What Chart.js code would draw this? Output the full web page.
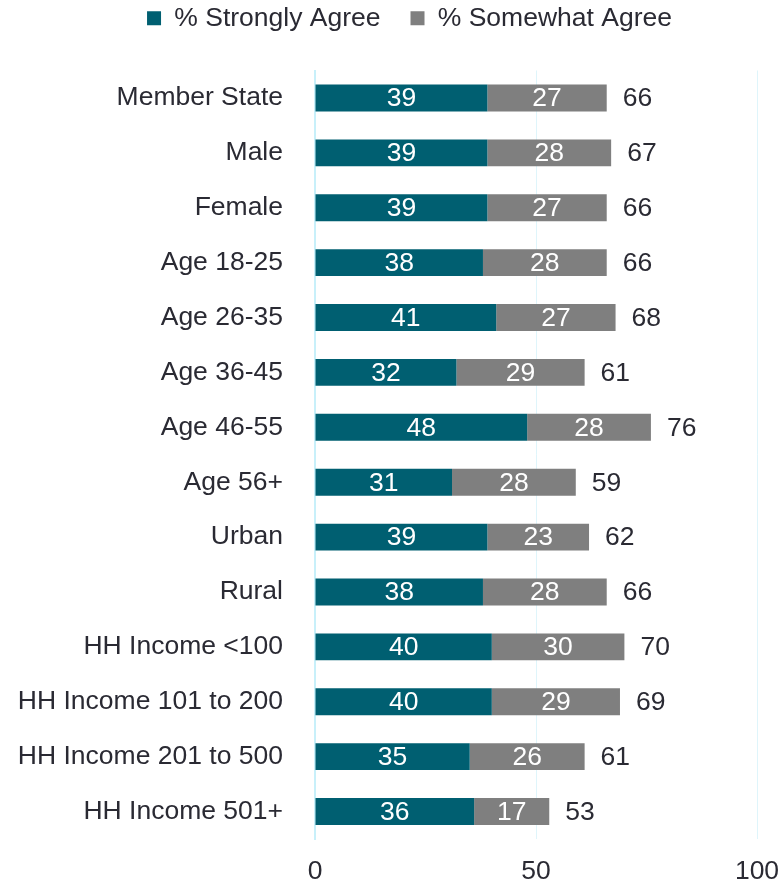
<!DOCTYPE html>
<html>
<head>
<meta charset="utf-8">
<script src="https://cdn.jsdelivr.net/npm/chart.js@4.4.1/dist/chart.umd.min.js"></script>
<style>
  html, body { margin: 0; padding: 0; background: #ffffff; }
  #wrap { width: 784px; height: 885px; position: relative; }
</style>
</head>
<body>
<div id="wrap"><canvas id="c"></canvas></div>
<script>
const categories = ["Member State", "Male", "Female", "Age 18-25", "Age 26-35", "Age 36-45", "Age 46-55", "Age 56+", "Urban", "Rural", "HH Income <100", "HH Income 101 to 200", "HH Income 201 to 500", "HH Income 501+"];
const stronglyAgree = [39, 39, 39, 38, 41, 32, 48, 31, 39, 38, 40, 40, 35, 36];
const somewhatAgree = [27, 28, 27, 28, 27, 29, 28, 28, 23, 28, 30, 29, 26, 17];
const totals = [66, 67, 66, 66, 68, 61, 76, 59, 62, 66, 70, 69, 61, 53];
const xTicks = [0, 50, 100];

const FONT = '"Liberation Sans", Arial, sans-serif';
const FS = 26.5;
const TEXT = '#2a2a33';

const labelPlugin = {
  id: 'barLabels',
  afterLayout(chart) {
    if (chart.legend) { chart.legend.left += 31; chart.legend.right += 31; }
  },
  afterDatasetsDraw(chart) {
    const ctx = chart.ctx;
    ctx.save();
    ctx.font = FS + 'px ' + FONT;
    ctx.textBaseline = 'middle';
    chart.data.datasets.forEach((ds, di) => {
      const meta = chart.getDatasetMeta(di);
      meta.data.forEach((bar, i) => {
        ctx.fillStyle = '#ffffff';
        ctx.textAlign = 'center';
        ctx.fillText(String(ds.data[i]), (bar.x + bar.base) / 2, bar.y + 1);
      });
    });
    const last = chart.getDatasetMeta(chart.data.datasets.length - 1);
    last.data.forEach((bar, i) => {
      ctx.fillStyle = TEXT;
      ctx.textAlign = 'left';
      ctx.fillText(String(totals[i]), bar.x + 16, bar.y + 1);
    });
    ctx.restore();
  }
};

new Chart(document.getElementById('c'), {
  type: 'bar',
  data: {
    labels: categories,
    datasets: [
      { label: '% Strongly Agree', data: stronglyAgree, backgroundColor: '#005f71', borderWidth: 0,
        barPercentage: 0.49, categoryPercentage: 1.0 },
      { label: '% Somewhat Agree', data: somewhatAgree, backgroundColor: '#7f7f7f', borderWidth: 0,
        barPercentage: 0.49, categoryPercentage: 1.0 }
    ]
  },
  options: {
    indexAxis: 'y',
    responsive: true,
    maintainAspectRatio: false,
    animation: false,
    layout: { padding: { left: 0, right: 27, top: -25, bottom: 0 } },
    plugins: {
      legend: {
        position: 'top',
        labels: {
          font: { family: FONT, size: FS },
          color: TEXT,
          boxWidth: 14,
          boxHeight: 14,
          padding: 30
        }
      },
      tooltip: { enabled: false }
    },
    scales: {
      x: {
        stacked: true,
        min: 0,
        max: 100,
        afterBuildTicks(scale) { scale.ticks = xTicks.map(v => ({ value: v })); },
        afterFit(scale) { scale.height = 46; scale.paddingRight = 0; scale.paddingLeft = 0; },
        grid: { color: '#dff5fb', lineWidth: 1, drawTicks: false },
        border: { display: false },
        ticks: { font: { family: FONT, size: FS }, color: TEXT, padding: 17, maxRotation: 0 }
      },
      spacer: {
        type: 'linear',
        axis: 'x',
        position: 'top',
        display: true,
        grid: { display: false, drawTicks: false },
        border: { display: false },
        ticks: { display: false },
        afterFit(scale) { scale.height = 29; scale.paddingRight = 0; scale.paddingLeft = 0; }
      },
      y: {
        stacked: true,
        afterFit(scale) { scale.width = 315; scale.paddingTop = 0; scale.paddingBottom = 0; },
        grid: { display: false, drawTicks: false },
        border: { display: true, color: '#c8f0fa', width: 2 },
        ticks: { font: { family: FONT, size: FS }, color: TEXT, padding: 32 }
      }
    }
  },
  plugins: [labelPlugin]
});
</script>
</body>
</html>
